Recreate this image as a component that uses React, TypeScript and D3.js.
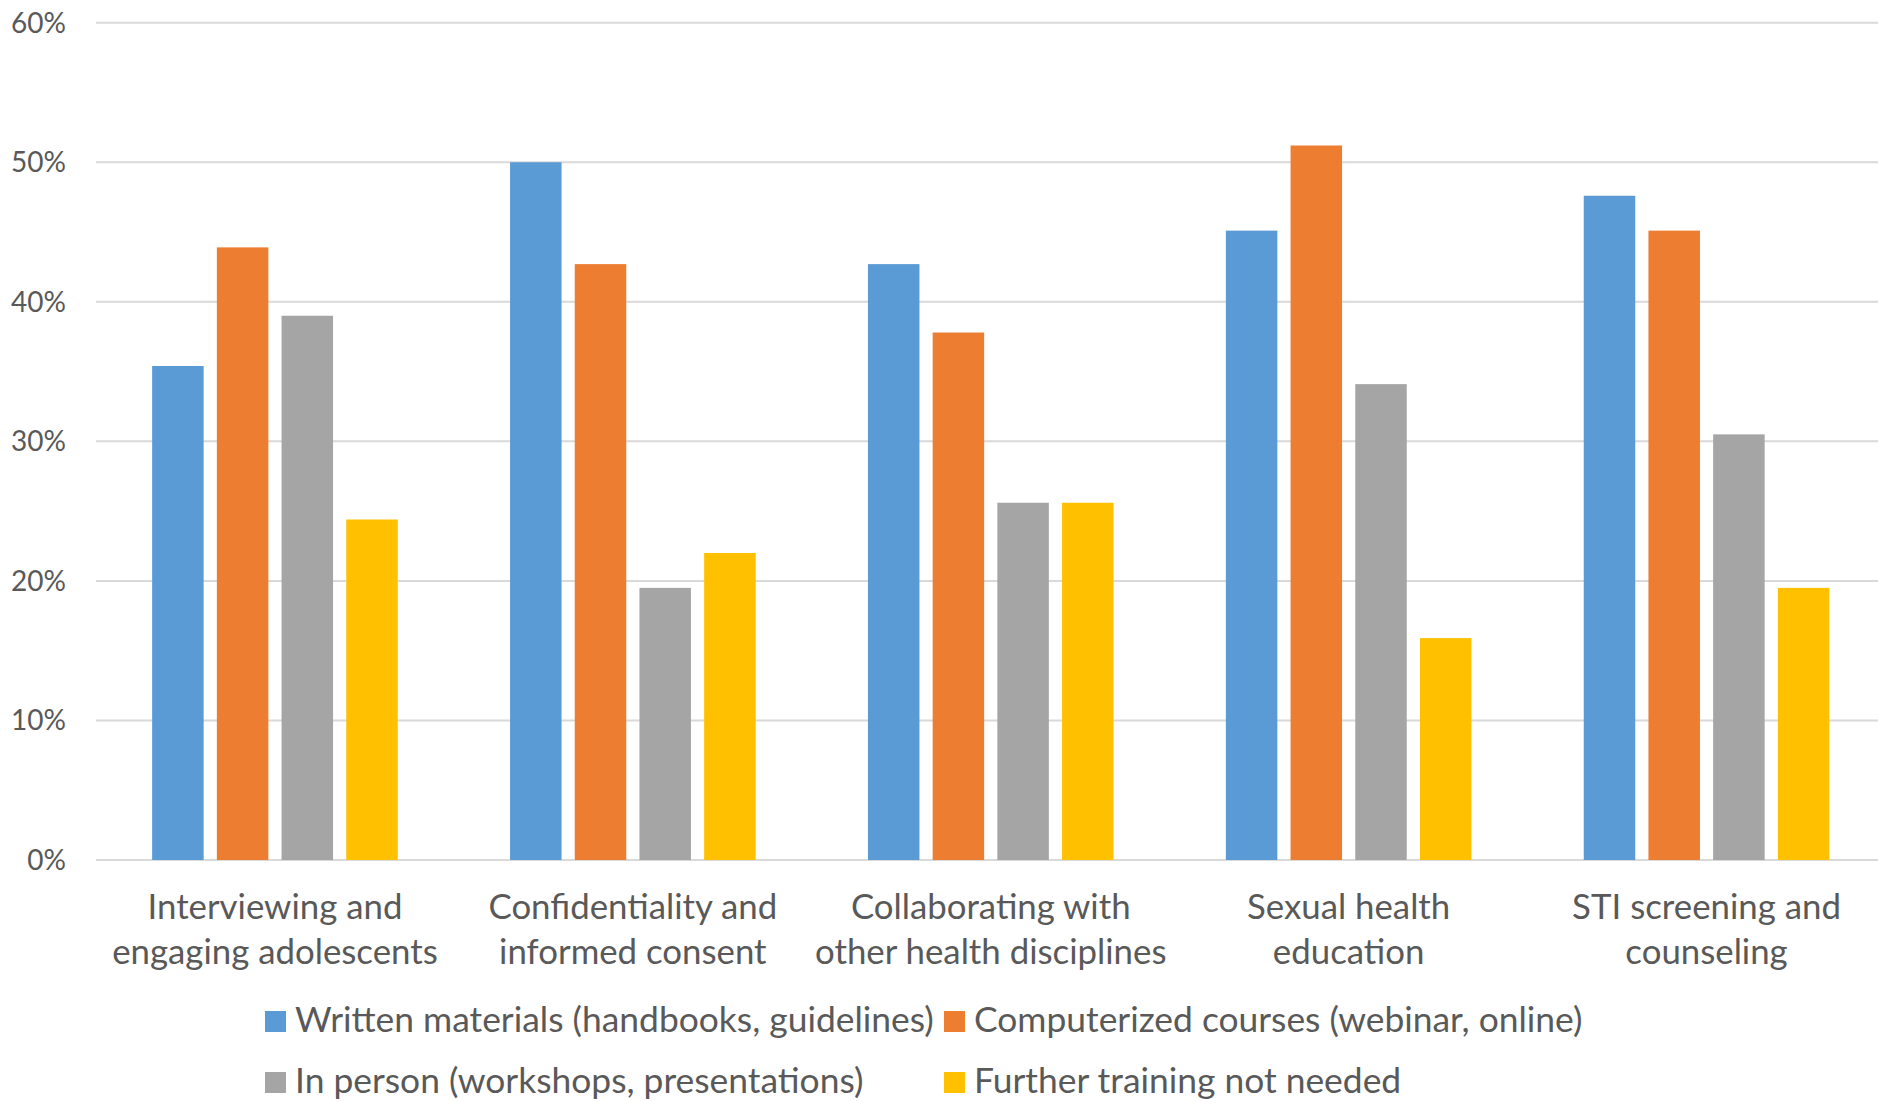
import React from "react";
import * as d3 from "d3";

const categories = [
  ["Interviewing and", "engaging adolescents"],
  ["Confidentiality and", "informed consent"],
  ["Collaborating with", "other health disciplines"],
  ["Sexual health", "education"],
  ["STI screening and", "counseling"],
];
const seriesNames = [
  "Written materials (handbooks, guidelines)",
  "Computerized courses (webinar, online)",
  "In person (workshops, presentations)",
  "Further training not needed",
];
const seriesColors = ["#5B9BD5", "#ED7D31", "#A5A5A5", "#FFC000"];
const writtenValues = [0.354, 0.5, 0.427, 0.451, 0.476];
const computerizedValues = [0.439, 0.427, 0.378, 0.512, 0.451];
const inPersonValues = [0.39, 0.195, 0.256, 0.341, 0.305];
const notNeededValues = [0.244, 0.22, 0.256, 0.159, 0.195];
const seriesValues = [writtenValues, computerizedValues, inPersonValues, notNeededValues];
const yTicks = [0, 0.1, 0.2, 0.3, 0.4, 0.5, 0.6];

const W = 1878;
const H = 1102;
const plotLeft = 96;
const plotRight = 1878;
const bandRight = 1885.5;
const plotTop = 22.7;
const plotBottom = 860;
const FONT = "Lato, 'Open Sans', sans-serif";
const TEXT = "#595959";

export default function App() {
  const x0 = d3
    .scaleBand<number>()
    .domain(d3.range(categories.length))
    .range([plotLeft, bandRight])
    .paddingInner(0)
    .paddingOuter(0);
  const groupW = 245.6;
  const bw0 = x0.bandwidth();
  const x1 = d3
    .scaleBand<number>()
    .domain(d3.range(seriesNames.length))
    .range([(bw0 - groupW) / 2, (bw0 + groupW) / 2])
    .paddingInner(0.204)
    .paddingOuter(0);
  const y = d3.scaleLinear().domain([0, 0.6]).range([plotBottom, plotTop]);
  const fmt = d3.format(".0%");

  const legendPos = [
    { x: 265, y: 1032 },
    { x: 944, y: 1032 },
    { x: 265, y: 1093 },
    { x: 944, y: 1093 },
  ];

  return (
    <svg
      width={W}
      height={H}
      style={{ position: "absolute", left: 0, top: 0, background: "#fff" }}
      fontFamily={FONT}
    >
      <rect x={0} y={0} width={W} height={H} fill="#fff" />
      {yTicks.map((t) => (
        <g key={t}>
          <line
            x1={plotLeft}
            x2={plotRight}
            y1={y(t)}
            y2={y(t)}
            stroke="#D9D9D9"
            strokeWidth={2}
          />
          <text
            x={66}
            y={y(t) + 10}
            textAnchor="end"
            fontSize={28}
            fill={TEXT}
          >
            {fmt(t)}
          </text>
        </g>
      ))}
      {categories.map((c, ci) => (
        <g key={ci} transform={`translate(${x0(ci)},0)`}>
          {seriesValues.map((vals, si) => (
            <rect
              key={si}
              x={x1(si)}
              y={y(vals[ci])}
              width={x1.bandwidth()}
              height={y(0) - y(vals[ci])}
              fill={seriesColors[si]}
            />
          ))}
          {c.map((line, li) => (
            <text
              key={li}
              x={bw0 / 2}
              y={919 + li * 45}
              textAnchor="middle"
              fontSize={34.8}
              fill={TEXT}
            >
              {line}
            </text>
          ))}
        </g>
      ))}
      {seriesNames.map((name, si) => (
        <g key={name}>
          <rect
            x={legendPos[si].x}
            y={legendPos[si].y - 21}
            width={21}
            height={21}
            fill={seriesColors[si]}
          />
          <text
            x={legendPos[si].x + 30}
            y={legendPos[si].y}
            fontSize={35.4}
            fill={TEXT}
          >
            {name}
          </text>
        </g>
      ))}
    </svg>
  );
}
